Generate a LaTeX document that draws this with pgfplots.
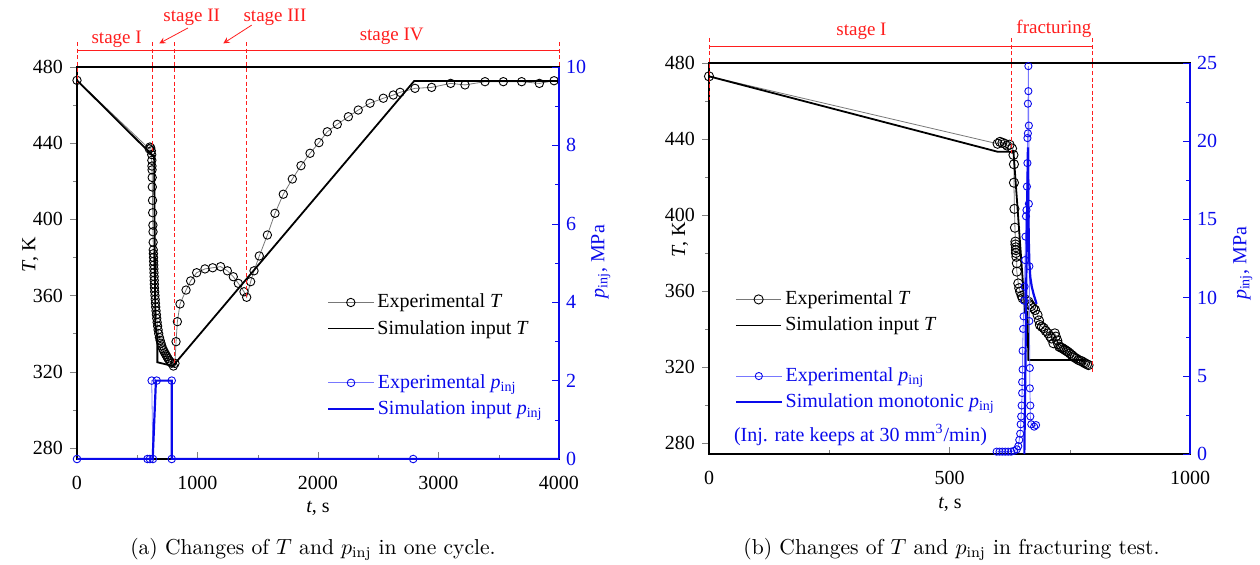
\documentclass[border=0pt]{standalone}
\usepackage{pgfplots}
\pgfplotsset{compat=1.18}
\usepackage{fontspec}
\newfontfamily\tnr{Liberation Serif}
\definecolor{pblue}{RGB}{10,10,235}
\definecolor{plight}{RGB}{120,120,255}
\definecolor{tgray}{RGB}{120,120,120}
\definecolor{ann}{RGB}{255,30,30}

\tikzset{stageline/.style={ann, line width=0.45pt, dash pattern=on 2pt off 1.3pt}}

\pgfplotsset{
  base/.style={
    scale only axis,
    font=\tnr\fontsize{10}{12}\selectfont,
    tick label style={font=\tnr\fontsize{10}{12}\selectfont},
    /pgf/number format/assume math mode=true,
    /pgf/number format/1000 sep={},
    xticklabel={\pgfmathprintnumber[assume math mode=true]{\tick}},
    yticklabel={\pgfmathprintnumber[assume math mode=true]{\tick}},
    xticklabel style={yshift=-5pt},
    major tick length=3.5pt, minor tick length=2pt,
    legend style={draw=none, fill=none, inner sep=0pt, outer sep=0pt,
      font=\tnr\fontsize{10}{12}\selectfont, row sep=1.6pt,
      nodes={inner sep=1.5pt}},
    legend cell align=left,
    legend image code/.code={\draw[mark repeat=2,mark phase=2,#1]
      plot coordinates {(0cm,0cm) (0.4cm,0cm) (0.8cm,0cm)};},
  },
  taxis/.style={base, ymin=274.2, ymax=480, ytick={280,320,...,480},
    minor y tick num=1, xtick pos=lower, ytick pos=left,
    axis line style={line width=0.7pt},
    xtick align=inside, ytick align=outside, clip mode=individual},
  paxis/.style={base, axis y line*=right, axis x line=none,
    ytick align=inside, axis line style={pblue, line width=0.8pt},
    ytick style={pblue}, minor y tick style={pblue},
    yticklabel style={text=pblue}, ylabel style={text=pblue}},
  expT/.style={tgray, line width=0.4pt, mark=o,
    mark options={black, line width=0.45pt}, mark size=2.1pt},
  simT/.style={black, line width=0.9pt, no marks},
  expP/.style={plight, line width=0.4pt, mark=o,
    mark options={pblue, line width=0.45pt}, mark size=1.9pt},
  simP/.style={pblue, line width=1.1pt, no marks},
}

\begin{document}
\begin{tikzpicture}
\useasboundingbox (0,0) rectangle (630pt,282pt);

% ---------------- (a) one cycle ----------------
\begin{axis}[taxis, at={(38.5pt,52.5pt)}, anchor=south west,
  width=241pt, height=196pt, xmin=0, xmax=4000,
  xtick={0,1000,...,4000}, minor x tick num=1,
  xlabel={\textit{t}, s}, ylabel={\textit{T}, K},
  xlabel style={at={(axis description cs:0.5,-0.125)}, anchor=center},
  ylabel style={at={(axis description cs:-0.097,0.52)}, anchor=center},
  legend style={at={(axis description cs:0.519,0.366)}, anchor=west}]
\addplot[expT] coordinates {
 (0,473) (600,437) (605,438) (612,437.5) (617,436) (620,434) (621,431)
 (622,428) (623,426) (624,422) (625,417) (627,410) (628,403.5) (630,397)
 (631,393.5) (632,388) (633,384) (634,382) (635,380) (636,378) (637,376)
 (638,374) (639,372) (640,370) (641,368) (642,366) (643,364) (645,362)
 (647,360) (649,358) (651,356) (653,354) (656,352) (659,350) (662,348)
 (665,346) (669,344) (673,342) (678,340) (684,338) (690,336.5) (697,335)
 (704,333.5) (712,332) (720,331) (728,330) (737,329) (746,328) (755,327)
 (765,326) (775,325.2) (786,324.5) (800,323) (813,324.4) (822,335.8)
 (833,346.3) (855,355.6) (905,362.9) (943,367.7) (993,372) (1062,374)
 (1126,374.6) (1192,375.2) (1248,373) (1297,369.9) (1339,366.4) (1386,362)
 (1408,359.1) (1441,367.3) (1469,373) (1513,380.8) (1580,391.8)
 (1643,403.2) (1712,413.2) (1787,421.2) (1859,428.2) (1934,434.7)
 (2008,440.3) (2077,446) (2160,449.9) (2252,453.9) (2334,457.4)
 (2432,461) (2542,463.6) (2625,465.3) (2681,466.7) (2805,468.8)
 (2943,469.3) (3101,471.4) (3220,470.6) (3386,472.3) (3538,472.3)
 (3690,472.3) (3837,471.4) (3959,472.8)};
\addlegendentry{Experimental \textit{T}}
\addplot[simT] coordinates {
 (0,473) (628,433.5) (640,433.5) (650,345) (667,338) (667,325) (795,323)
 (2799,472.7) (4000,472.7)};
\addlegendentry{Simulation input \textit{T}}
% stage marks
\draw[ann, line width=0.45pt] (axis cs:0,488.9) -- (axis cs:4000,488.9);
\draw[stageline] (axis cs:0,493.1) -- (axis cs:0,471.6);
\draw[stageline] (axis cs:626,493.1) -- (axis cs:626,436);
\draw[stageline] (axis cs:812,493.1) -- (axis cs:812,324.6);
\draw[stageline] (axis cs:1410,493.1) -- (axis cs:1410,359);
\draw[stageline] (axis cs:4000,493.1) -- (axis cs:4000,480);
\begin{scope}[every node/.style={text=ann, font=\tnr\fontsize{9.5}{11}\selectfont}]
\node at (axis cs:329,494.6) {stage I};
\node at (axis cs:952,506.2) {stage II};
\node at (axis cs:1643,506.2) {stage III};
\node at (axis cs:2612,496.1) {stage IV};
\end{scope}
\draw[ann, line width=0.4pt, -stealth] (axis cs:921,500.5) -- (axis cs:683,492.4);
\draw[ann, line width=0.4pt, -stealth] (axis cs:1450,502) -- (axis cs:1214,492.4);
\end{axis}

\begin{axis}[paxis, at={(38.5pt,52.5pt)}, anchor=south west,
  width=241pt, height=196pt, xmin=0, xmax=4000, ymin=0, ymax=10,
  ytick={0,2,...,10}, minor y tick num=1,
  ylabel={\textit{p}\textsubscript{inj}, MPa},
  ylabel style={at={(axis description cs:1.087,0.503)}, anchor=center, rotate=0},
  legend style={at={(axis description cs:0.519,0.161)}, anchor=west,
    text=pblue}]
\addplot[expP] coordinates {
 (0,0) (585,0) (605,0) (630,0) (620,2) (661,2) (786,2) (786,0) (2790,0)};
\addlegendentry{Experimental \textit{p}\textsubscript{inj}}
\addplot[simP] coordinates {
 (0,0) (628,0) (655,2) (786,2) (786,0) (4000,0)};
\addlegendentry{Simulation input \textit{p}\textsubscript{inj}}
\end{axis}

\node[font=\fontsize{10.8}{13}\selectfont, anchor=base] at (156.5pt,5pt)
  {(a) Changes of $T$ and $p_{\mathrm{inj}}$ in one cycle.};

% ---------------- (b) fracturing test ----------------
\begin{axis}[taxis, at={(354.5pt,55pt)}, anchor=south west,
  width=240.5pt, height=195.5pt, xmin=0, xmax=1000,
  xtick={0,500,1000}, minor x tick num=1,
  xlabel={\textit{t}, s}, ylabel={\textit{T}, K},
  xlabel style={at={(axis description cs:0.501,-0.130)}, anchor=center},
  ylabel style={at={(axis description cs:-0.060,0.547)}, anchor=center},
  legend style={at={(axis description cs:0.054,0.362)}, anchor=west}]
\addplot[expT, mark size=2.3pt] coordinates {
 (0,473) (600,437.5) (605,438.5) (610,438) (615,437.5) (620,436.5)
 (625,437) (630,435) (633,431.6) (634,426.7) (634,417) (635,403.2)
 (636,393.3) (637,386) (637,384.5) (638,383) (638,381.5) (638,380)
 (639,378) (640,374.6) (640,370.2) (643,364) (645,361.5) (647,359.6)
 (650,357.5) (652,356.2) (658,355.5) (664,354.4) (667,353) (670,352)
 (674,351) (678,350) (683,347.4) (686,344.5) (688,342.1) (692,341.2)
 (696,340.4) (700,339) (705,337.7) (709,336.2) (712,335) (716,332.5)
 (719,337.7) (721,336) (724,334) (726,332) (728,330.7) (731,330.3)
 (734,330) (737,329.5) (740,329) (743,328.5) (746,328) (750,327.2)
 (754,326.3) (757,325.6) (760,325) (764,324.4) (768,323.7) (772,323.3)
 (775,323) (779,322.4) (782,321.9) (786,321.4) (789,321)};
\addlegendentry{Experimental \textit{T}}
\addplot[simT] coordinates {
 (0,473) (600,433.3) (633,433.3) (657,349) (662,349) (664,323.7) (780,323.7)};
\addlegendentry{Simulation input \textit{T}}
\draw[ann, line width=0.45pt] (axis cs:0,488.9) -- (axis cs:798,488.9);
\draw[stageline] (axis cs:0,493.2) -- (axis cs:0,460.5);
\draw[stageline] (axis cs:628,493.2) -- (axis cs:628,432.6);
\draw[stageline] (axis cs:798,493.2) -- (axis cs:798,317.4);
\begin{scope}[every node/.style={text=ann, font=\tnr\fontsize{9.5}{11}\selectfont}]
\node at (axis cs:317,496.5) {stage I};
\node at (axis cs:717,497.9) {fracturing};
\end{scope}
\end{axis}

\begin{axis}[paxis, at={(354.5pt,55pt)}, anchor=south west,
  width=240.5pt, height=195.5pt, xmin=0, xmax=1000, ymin=0, ymax=25,
  ytick={0,5,...,25}, minor y tick num=1,
  ylabel={\textit{p}\textsubscript{inj}, MPa},
  ylabel style={at={(axis description cs:1.110,0.488)}, anchor=center, rotate=0},
  legend style={at={(axis description cs:0.054,0.166)}, anchor=west,
    text=pblue}]
\addplot[expP, mark size=1.8pt] coordinates {
 (598,0.15) (604,0.15) (610,0.15) (616,0.15) (622,0.15) (628,0.15)
 (634,0.2) (640,0.3) (643,0.5) (645,0.9) (647,1.3) (648,1.9) (649,2.4)
 (650,3.1) (651,3.9) (651,4.6) (652,5.4) (652,6.6) (653,8.0) (654,8.8)
 (655,9.8) (656,10.7) (657,12.4) (658,13.9) (659,15.2) (660,15.6)
 (661,17.1) (662,18.6) (662,20.2) (663,20.5) (663,22.4) (664,23.2)
 (664,24.8) (665,21) (665,16) (666,12) (666,8.5) (667,5.5) (667,4.2)
 (668,3.1) (668,2.4) (670,1.9) (676,1.75) (680,1.85)};
\addlegendentry{Experimental \textit{p}\textsubscript{inj}}
\addplot[simP] coordinates {
 (655.6,0) (658,6) (660,12) (661.5,16) (663,19.6) (664,15.5) (665,13.5)
 (666,12.3) (668,11.3) (671,10.7) (675,10.2) (681,9.6)};
\addlegendentry{Simulation monotonic \textit{p}\textsubscript{inj}}
\node[anchor=east, text=pblue, font=\tnr\fontsize{10}{12}\selectfont]
  at (axis description cs:0.5925,0.0486) {(Inj. rate keeps at 30 mm\textsuperscript{3}/min)};
\end{axis}

\node[font=\fontsize{10.8}{13}\selectfont, anchor=base] at (475.75pt,5pt)
  {(b) Changes of $T$ and $p_{\mathrm{inj}}$ in fracturing test.};
\end{tikzpicture}
\end{document}
